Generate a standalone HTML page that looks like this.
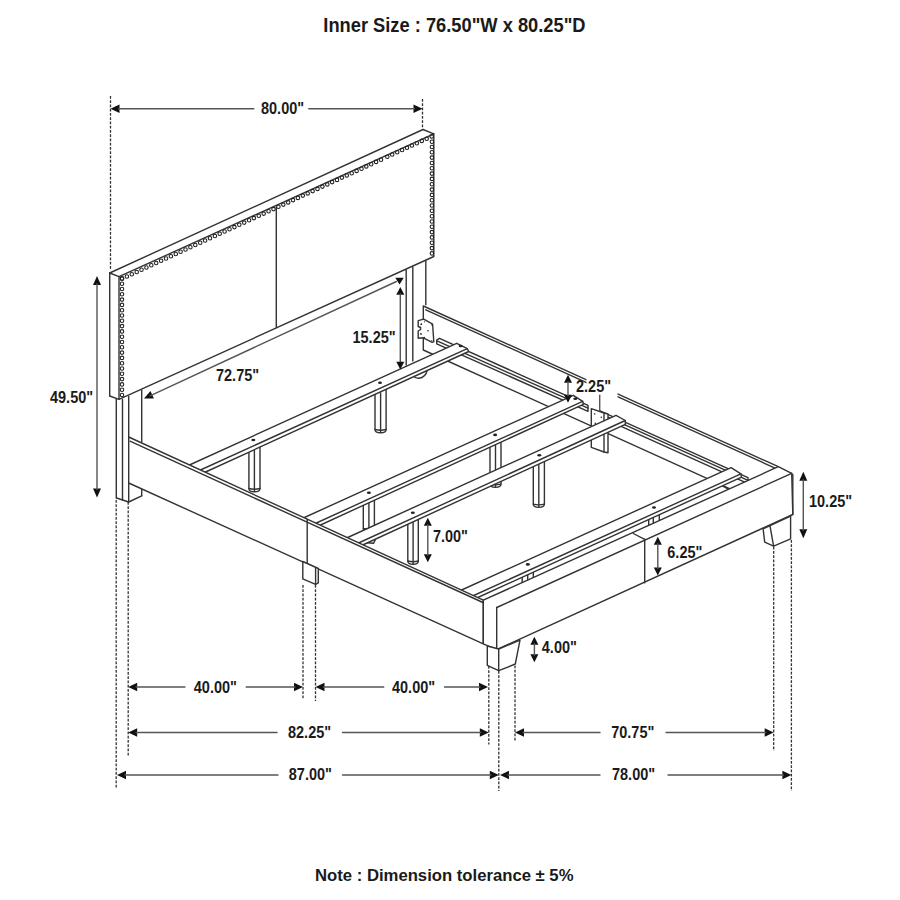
<!DOCTYPE html>
<html><head><meta charset="utf-8"><style>
html,body{margin:0;padding:0;background:#fff;width:900px;height:900px;overflow:hidden}
svg{display:block}
line,path{stroke:#333;stroke-width:1.4;fill:none;stroke-linecap:round;stroke-linejoin:round}
line.dash{stroke-dasharray:2.8 1.45;stroke-linecap:butt;stroke-width:1.3}
path.ah{fill:#111;stroke:none}
path.f{fill:#fff}
line.dim{stroke:#555}
circle.stud{fill:none;stroke:#222;stroke-width:1.1}
text{font-family:"Liberation Sans",sans-serif;font-weight:bold;fill:#1a1a1a}
</style></head><body>
<svg width="900" height="900" viewBox="0 0 900 900">
<line x1="109.7" y1="273.0" x2="109.7" y2="396.0"/>
<line x1="109.7" y1="396.0" x2="119.0" y2="399.3"/>
<line x1="109.7" y1="273.0" x2="119.0" y2="276.7"/>
<line x1="109.7" y1="273.0" x2="423.0" y2="129.5"/>
<line x1="423.0" y1="129.5" x2="433.8" y2="133.8"/>
<path d="M119.0,399.3 L119.0,276.7 L433.8,133.8 L433.8,256.5 L119.0,399.3"/>
<line x1="276.3" y1="207.5" x2="276.3" y2="327.5"/>
<circle class="stud" cx="122.0" cy="278.7" r="1.75"/>
<circle class="stud" cx="126.9" cy="276.5" r="1.75"/>
<circle class="stud" cx="131.8" cy="274.2" r="1.75"/>
<circle class="stud" cx="136.7" cy="272.0" r="1.75"/>
<circle class="stud" cx="141.5" cy="269.7" r="1.75"/>
<circle class="stud" cx="146.4" cy="267.5" r="1.75"/>
<circle class="stud" cx="151.3" cy="265.2" r="1.75"/>
<circle class="stud" cx="156.2" cy="263.0" r="1.75"/>
<circle class="stud" cx="161.1" cy="260.7" r="1.75"/>
<circle class="stud" cx="166.0" cy="258.5" r="1.75"/>
<circle class="stud" cx="170.9" cy="256.2" r="1.75"/>
<circle class="stud" cx="175.8" cy="254.0" r="1.75"/>
<circle class="stud" cx="180.6" cy="251.8" r="1.75"/>
<circle class="stud" cx="185.5" cy="249.5" r="1.75"/>
<circle class="stud" cx="190.4" cy="247.3" r="1.75"/>
<circle class="stud" cx="195.3" cy="245.0" r="1.75"/>
<circle class="stud" cx="200.2" cy="242.8" r="1.75"/>
<circle class="stud" cx="205.1" cy="240.5" r="1.75"/>
<circle class="stud" cx="210.0" cy="238.3" r="1.75"/>
<circle class="stud" cx="214.9" cy="236.0" r="1.75"/>
<circle class="stud" cx="219.7" cy="233.8" r="1.75"/>
<circle class="stud" cx="224.6" cy="231.5" r="1.75"/>
<circle class="stud" cx="229.5" cy="229.3" r="1.75"/>
<circle class="stud" cx="234.4" cy="227.1" r="1.75"/>
<circle class="stud" cx="239.3" cy="224.8" r="1.75"/>
<circle class="stud" cx="244.2" cy="222.6" r="1.75"/>
<circle class="stud" cx="249.1" cy="220.3" r="1.75"/>
<circle class="stud" cx="253.9" cy="218.1" r="1.75"/>
<circle class="stud" cx="258.8" cy="215.8" r="1.75"/>
<circle class="stud" cx="263.7" cy="213.6" r="1.75"/>
<circle class="stud" cx="268.6" cy="211.3" r="1.75"/>
<circle class="stud" cx="273.5" cy="209.1" r="1.75"/>
<circle class="stud" cx="278.4" cy="206.8" r="1.75"/>
<circle class="stud" cx="283.3" cy="204.6" r="1.75"/>
<circle class="stud" cx="288.2" cy="202.4" r="1.75"/>
<circle class="stud" cx="293.0" cy="200.1" r="1.75"/>
<circle class="stud" cx="297.9" cy="197.9" r="1.75"/>
<circle class="stud" cx="302.8" cy="195.6" r="1.75"/>
<circle class="stud" cx="307.7" cy="193.4" r="1.75"/>
<circle class="stud" cx="312.6" cy="191.1" r="1.75"/>
<circle class="stud" cx="317.5" cy="188.9" r="1.75"/>
<circle class="stud" cx="322.4" cy="186.6" r="1.75"/>
<circle class="stud" cx="327.3" cy="184.4" r="1.75"/>
<circle class="stud" cx="332.1" cy="182.1" r="1.75"/>
<circle class="stud" cx="337.0" cy="179.9" r="1.75"/>
<circle class="stud" cx="341.9" cy="177.6" r="1.75"/>
<circle class="stud" cx="346.8" cy="175.4" r="1.75"/>
<circle class="stud" cx="351.7" cy="173.2" r="1.75"/>
<circle class="stud" cx="356.6" cy="170.9" r="1.75"/>
<circle class="stud" cx="361.5" cy="168.7" r="1.75"/>
<circle class="stud" cx="366.3" cy="166.4" r="1.75"/>
<circle class="stud" cx="371.2" cy="164.2" r="1.75"/>
<circle class="stud" cx="376.1" cy="161.9" r="1.75"/>
<circle class="stud" cx="381.0" cy="159.7" r="1.75"/>
<circle class="stud" cx="387.3" cy="156.8" r="1.75"/>
<circle class="stud" cx="392.2" cy="154.5" r="1.75"/>
<circle class="stud" cx="397.2" cy="152.3" r="1.75"/>
<circle class="stud" cx="402.1" cy="150.0" r="1.75"/>
<circle class="stud" cx="407.0" cy="147.7" r="1.75"/>
<circle class="stud" cx="411.9" cy="145.5" r="1.75"/>
<circle class="stud" cx="416.9" cy="143.2" r="1.75"/>
<circle class="stud" cx="421.8" cy="140.9" r="1.75"/>
<circle class="stud" cx="426.7" cy="138.7" r="1.75"/>
<circle class="stud" cx="431.7" cy="136.4" r="1.75"/>
<circle class="stud" cx="122.0" cy="395.0" r="1.75"/>
<circle class="stud" cx="122.0" cy="389.7" r="1.75"/>
<circle class="stud" cx="122.0" cy="384.4" r="1.75"/>
<circle class="stud" cx="122.0" cy="379.1" r="1.75"/>
<circle class="stud" cx="122.0" cy="373.8" r="1.75"/>
<circle class="stud" cx="122.0" cy="368.5" r="1.75"/>
<circle class="stud" cx="122.0" cy="363.2" r="1.75"/>
<circle class="stud" cx="122.0" cy="357.9" r="1.75"/>
<circle class="stud" cx="122.0" cy="352.6" r="1.75"/>
<circle class="stud" cx="122.0" cy="347.3" r="1.75"/>
<circle class="stud" cx="122.0" cy="342.0" r="1.75"/>
<circle class="stud" cx="122.0" cy="336.7" r="1.75"/>
<circle class="stud" cx="122.0" cy="331.4" r="1.75"/>
<circle class="stud" cx="122.0" cy="326.1" r="1.75"/>
<circle class="stud" cx="122.0" cy="320.8" r="1.75"/>
<circle class="stud" cx="122.0" cy="315.5" r="1.75"/>
<circle class="stud" cx="122.0" cy="310.2" r="1.75"/>
<circle class="stud" cx="122.0" cy="304.9" r="1.75"/>
<circle class="stud" cx="122.0" cy="299.6" r="1.75"/>
<circle class="stud" cx="122.0" cy="294.3" r="1.75"/>
<circle class="stud" cx="122.0" cy="289.0" r="1.75"/>
<circle class="stud" cx="122.0" cy="283.7" r="1.75"/>
<circle class="stud" cx="122.0" cy="278.4" r="1.75"/>
<circle class="stud" cx="431.9" cy="253.4" r="1.75"/>
<circle class="stud" cx="431.9" cy="248.1" r="1.75"/>
<circle class="stud" cx="431.9" cy="242.8" r="1.75"/>
<circle class="stud" cx="431.9" cy="237.4" r="1.75"/>
<circle class="stud" cx="431.9" cy="232.1" r="1.75"/>
<circle class="stud" cx="431.9" cy="226.8" r="1.75"/>
<circle class="stud" cx="431.9" cy="221.5" r="1.75"/>
<circle class="stud" cx="431.9" cy="216.2" r="1.75"/>
<circle class="stud" cx="431.9" cy="210.8" r="1.75"/>
<circle class="stud" cx="431.9" cy="205.5" r="1.75"/>
<circle class="stud" cx="431.9" cy="200.2" r="1.75"/>
<circle class="stud" cx="431.9" cy="194.9" r="1.75"/>
<circle class="stud" cx="431.9" cy="189.6" r="1.75"/>
<circle class="stud" cx="431.9" cy="184.2" r="1.75"/>
<circle class="stud" cx="431.9" cy="178.9" r="1.75"/>
<circle class="stud" cx="431.9" cy="173.6" r="1.75"/>
<circle class="stud" cx="431.9" cy="168.3" r="1.75"/>
<circle class="stud" cx="431.9" cy="163.0" r="1.75"/>
<circle class="stud" cx="431.9" cy="157.6" r="1.75"/>
<circle class="stud" cx="431.9" cy="152.3" r="1.75"/>
<circle class="stud" cx="431.9" cy="147.0" r="1.75"/>
<circle class="stud" cx="431.9" cy="141.7" r="1.75"/>
<line x1="116.3" y1="399.3" x2="116.3" y2="498.0"/>
<line x1="122.5" y1="399.5" x2="122.5" y2="500.0"/>
<line x1="128.7" y1="396.5" x2="128.7" y2="438.3"/>
<line x1="128.7" y1="483.0" x2="128.7" y2="502.0"/>
<line x1="141.7" y1="390.0" x2="141.7" y2="441.7"/>
<line x1="141.7" y1="489.0" x2="141.7" y2="495.8"/>
<path d="M116.5,498.0 L128.7,502.0 L141.7,495.8"/>
<line x1="406.2" y1="270.2" x2="406.2" y2="365.0"/>
<line x1="412.8" y1="267.0" x2="412.8" y2="361.0"/>
<line x1="425.8" y1="260.8" x2="425.8" y2="304.8"/>
<path class="f" d="M423.3,306.0 L778.3,466.7 L778.3,510.7 L423.3,350.0Z"/>
<line x1="425.8" y1="309.8" x2="775.5" y2="468.3"/>
<rect x="586.5" y="372" width="31" height="26" fill="#fff" stroke="none"/>
<path class="f" d="M418.2,320.7 L423.7,319.1 L432.6,324.2 L433.8,341.7 L432.2,342.4 L423.3,337.8 L418.2,338.2 L418.2,331.0 L420.6,329.5 L420.6,327.5 L418.2,326.5Z" stroke-width="1.2"/>
<circle cx="428" cy="330.8" r="0.8" fill="#222" stroke="none"/>
<circle cx="421.3" cy="324.2" r="0.9" fill="#222" stroke="none"/>
<circle cx="421" cy="333.9" r="0.9" fill="#222" stroke="none"/>
<circle cx="424.4" cy="321.8" r="0.6" fill="#222" stroke="none"/>
<circle cx="431.8" cy="324.9" r="0.6" fill="#222" stroke="none"/>
<circle cx="424.4" cy="337.4" r="0.6" fill="#222" stroke="none"/>
<circle cx="431.8" cy="340.5" r="0.6" fill="#222" stroke="none"/>
<path class="f" d="M439.5,338.3 L588.0,405.3 L588.0,411.3 L436.7,343.8 L436.7,340.2Z"/>
<line x1="437.5" y1="341.2" x2="588.0" y2="408.1"/>
<path class="f" d="M600.0,410.8 L748.0,477.6 L748.0,483.6 L600.0,416.8Z"/>
<line x1="600.0" y1="413.6" x2="748.0" y2="480.4"/>
<path class="f" d="M375.0,393.0 L386.1,387.9 L386.1,429.5 Q386.1,432.8 380.6,432.8 Q375.0,432.8 375.0,429.5Z" stroke-width="1.2"/>
<line x1="380.6" y1="393.0" x2="380.6" y2="432.5" stroke-width="1.0"/>
<path d="M375.0,429.5 Q380.6,431.0 386.1,429.5" stroke-width="0.8"/>
<path class="f" d="M248.9,450.0 L260.0,444.9 L260.0,488.5 Q260.0,491.8 254.4,491.8 Q248.9,491.8 248.9,488.5Z" stroke-width="1.2"/>
<line x1="254.4" y1="450.0" x2="254.4" y2="491.5" stroke-width="1.0"/>
<path d="M248.9,488.5 Q254.4,490.0 260.0,488.5" stroke-width="0.8"/>
<path class="f" d="M490.0,445.0 L501.0,440.0 L501.0,484.1 Q501.0,487.4 495.5,487.4 Q490.0,487.4 490.0,484.1Z" stroke-width="1.2"/>
<line x1="495.5" y1="445.0" x2="495.5" y2="487.1" stroke-width="1.0"/>
<path d="M490.0,484.1 Q495.5,485.6 501.0,484.1" stroke-width="0.8"/>
<path class="f" d="M363.3,503.0 L374.4,497.9 L374.4,528.5 Q374.4,531.8 368.9,531.8 Q363.3,531.8 363.3,528.5Z" stroke-width="1.2"/>
<line x1="368.9" y1="503.0" x2="368.9" y2="531.5" stroke-width="1.0"/>
<path d="M363.3,528.5 Q368.9,530.0 374.4,528.5" stroke-width="0.8"/>
<path class="f" d="M533.3,464.0 L544.4,458.9 L544.4,504.1 Q544.4,507.4 538.8,507.4 Q533.3,507.4 533.3,504.1Z" stroke-width="1.2"/>
<line x1="538.8" y1="464.0" x2="538.8" y2="507.1" stroke-width="1.0"/>
<path d="M533.3,504.1 Q538.8,505.6 544.4,504.1" stroke-width="0.8"/>
<path class="f" d="M407.8,522.0 L418.3,517.2 L418.3,561.0 Q418.3,564.3 413.1,564.3 Q407.8,564.3 407.8,561.0Z" stroke-width="1.2"/>
<line x1="413.1" y1="522.0" x2="413.1" y2="564.0" stroke-width="1.0"/>
<path d="M407.8,561.0 Q413.1,562.5 418.3,561.0" stroke-width="0.8"/>
<path d="M411.5,371.5 Q412.5,378.5 419,378.2 Q425.5,377.8 427.5,369.5" stroke-width="1.2"/>
<path class="f" d="M591.3,408.7 L604.0,413.0 L608.0,414.0 L608.0,452.7 L604.0,452.0 L591.3,447.3Z"/>
<line x1="604.0" y1="413.0" x2="604.0" y2="452.0"/>
<circle cx="594.7" cy="414" r="0.8" fill="#222" stroke="none"/>
<circle cx="601.3" cy="417.3" r="0.8" fill="#222" stroke="none"/>
<circle cx="595.3" cy="423.3" r="0.8" fill="#222" stroke="none"/>
<path class="f" d="M522.2,570.0 L533.3,570.0 L533.3,583.3 L522.2,583.3Z"/>
<line x1="527.7" y1="570.0" x2="527.7" y2="583.3"/>
<path class="f" d="M648.7,510.0 L659.3,510.0 L659.3,525.3 L648.7,525.3Z"/>
<line x1="653.3" y1="510.0" x2="653.3" y2="525.3"/>
<line x1="720.7" y1="484.8" x2="728.7" y2="489.3"/>
<path d="M365.8,539.5 L367.0,542.8 L373.5,543.3 L375.5,539.5"/>
<path class="f" d="M185.0,467.0 L456.7,343.3 L467.3,348.7 L468.7,351.5 L199.0,475.0 L196.0,472.0Z"/>
<line x1="196.0" y1="472.0" x2="467.3" y2="348.7"/>
<ellipse cx="253.3" cy="440" rx="2" ry="1.3" fill="#222" stroke="none"/>
<ellipse cx="380" cy="382.8" rx="2" ry="1.3" fill="#222" stroke="none"/>
<ellipse cx="460.7" cy="346" rx="2" ry="1.3" fill="#222" stroke="none"/>
<path class="f" d="M300.0,519.5 L573.3,395.3 L582.7,401.3 L583.3,404.3 L314.0,528.0 L312.0,525.0Z"/>
<line x1="312.0" y1="525.0" x2="582.7" y2="401.3"/>
<ellipse cx="368.9" cy="492.8" rx="2" ry="1.3" fill="#222" stroke="none"/>
<ellipse cx="495.1" cy="434.9" rx="2" ry="1.3" fill="#222" stroke="none"/>
<ellipse cx="575.3" cy="398.7" rx="2" ry="1.3" fill="#222" stroke="none"/>
<path class="f" d="M340.0,541.0 L616.0,415.3 L625.3,420.5 L625.3,424.3 L354.0,549.0 L352.0,546.0Z"/>
<line x1="352.0" y1="546.0" x2="625.3" y2="420.5"/>
<ellipse cx="412.8" cy="512.8" rx="2" ry="1.3" fill="#222" stroke="none"/>
<ellipse cx="539.3" cy="455.3" rx="2" ry="1.3" fill="#222" stroke="none"/>
<path class="f" d="M455.0,593.0 L731.1,467.6 L740.9,473.8 L741.5,477.2 L468.0,602.0 L466.0,599.0Z"/>
<line x1="466.0" y1="599.0" x2="740.9" y2="473.8"/>
<ellipse cx="527.8" cy="564.4" rx="2" ry="1.3" fill="#222" stroke="none"/>
<ellipse cx="654" cy="507.5" rx="2" ry="1.3" fill="#222" stroke="none"/>
<path class="f" d="M128.7,437.0 L483.3,600.2 L483.3,643.8 L128.7,483.0Z"/>
<line x1="130.0" y1="441.2" x2="484.0" y2="603.0"/>
<line x1="307.2" y1="519.4" x2="307.2" y2="562.8"/>
<path class="f" d="M302.8,561.5 L318.3,568.5 L318.3,582.8 L315.6,584.4 L302.8,578.9Z"/>
<line x1="315.6" y1="568.0" x2="315.6" y2="584.4"/>
<path class="f" d="M483.3,600.2 L778.3,466.7 L791.7,473.3 L792.8,514.5 L496.7,649.6 L483.3,643.8Z"/>
<line x1="496.7" y1="607.5" x2="791.7" y2="473.3"/>
<line x1="496.7" y1="607.5" x2="496.7" y2="649.6"/>
<line x1="792.8" y1="474.5" x2="792.8" y2="514.5"/>
<line x1="633.3" y1="533.5" x2="644.7" y2="539.3"/>
<line x1="644.7" y1="539.3" x2="644.7" y2="582.7"/>
<path class="f" d="M487.3,646.0 L498.7,649.0 L520.0,640.2 L515.3,664.0 L498.7,670.7 L487.3,665.3Z"/>
<line x1="498.7" y1="649.0" x2="498.7" y2="670.7"/>
<path class="f" d="M763.1,528.9 L790.6,516.1 L790.6,538.9 L773.6,546.1 L764.7,542.2Z"/>
<line x1="770.0" y1="525.8" x2="773.6" y2="546.1"/>
<text transform="translate(323.3,31.8) scale(1,1.08)" font-size="18.3">Inner Size : 76.50&quot;W x 80.25&quot;D</text>
<text transform="translate(315.0,880.7) scale(1,1.04)" font-size="16.7">Note : Dimension tolerance ± 5%</text>
<path class="ah" d="M110.5,108.8 L119.5,104.5 L119.5,113.0Z"/>
<path class="ah" d="M422.5,108.8 L413.5,113.0 L413.5,104.5Z"/>
<line class="dim" x1="118.5" y1="108.8" x2="253.8" y2="108.8"/>
<line class="dim" x1="308.8" y1="108.8" x2="414.5" y2="108.8"/>
<text transform="translate(261.0,113.8) scale(1,1.12)" font-size="14.5">80.00&quot;</text>
<line class="dash" x1="110.5" y1="96.0" x2="110.5" y2="270.0"/>
<line class="dash" x1="422.5" y1="99.0" x2="422.5" y2="127.5"/>
<path class="ah" d="M97.0,276.0 L101.0,285.0 L93.0,285.0Z"/>
<path class="ah" d="M97.0,497.5 L93.0,488.5 L101.0,488.5Z"/>
<line class="dim" x1="97.0" y1="284.0" x2="97.0" y2="489.5"/>
<text transform="translate(50.0,402.5) scale(1,1.12)" font-size="14.5">49.50&quot;</text>
<path class="ah" d="M144.0,398.5 L150.5,391.0 L153.9,398.6Z"/>
<line class="dim" x1="150.0" y1="395.8" x2="396.4" y2="281.5"/>
<text transform="translate(216.0,380.5) scale(1,1.12)" font-size="14.5">72.75&quot;</text>
<path class="ah" d="M399.5,284.5 L395.3,277.7 L403.7,277.7Z"/>
<path class="ah" d="M400.3,287.0 L404.3,294.8 L396.3,294.8Z"/>
<line class="dim" x1="400.3" y1="294.0" x2="400.3" y2="362.0"/>
<path class="ah" d="M400.3,369.5 L396.3,361.7 L404.3,361.7Z"/>
<text transform="translate(352.5,342.5) scale(1,1.12)" font-size="14.5">15.25&quot;</text>
<path class="ah" d="M568.0,374.7 L572.0,382.7 L564.0,382.7Z"/>
<path class="ah" d="M568.0,402.7 L564.0,394.7 L572.0,394.7Z"/>
<line class="dim" x1="568.0" y1="381.7" x2="568.0" y2="395.7"/>
<text transform="translate(576.0,392.0) scale(1,1.12)" font-size="14.5">2.25&quot;</text>
<line class="dim" x1="599.7" y1="395.3" x2="599.7" y2="410.7"/>
<path class="ah" d="M803.3,471.7 L807.3,480.7 L799.3,480.7Z"/>
<path class="ah" d="M803.3,538.3 L799.3,529.3 L807.3,529.3Z"/>
<line class="dim" x1="803.3" y1="479.7" x2="803.3" y2="530.3"/>
<text transform="translate(809.0,506.7) scale(1,1.12)" font-size="14.5">10.25&quot;</text>
<path class="ah" d="M427.8,517.8 L431.8,525.8 L423.8,525.8Z"/>
<path class="ah" d="M427.8,562.2 L423.8,554.2 L431.8,554.2Z"/>
<line class="dim" x1="427.8" y1="524.8" x2="427.8" y2="555.2"/>
<text transform="translate(432.9,541.8) scale(1,1.12)" font-size="14.5">7.00&quot;</text>
<path class="ah" d="M657.8,536.7 L661.8,544.7 L653.8,544.7Z"/>
<path class="ah" d="M657.8,575.6 L653.8,567.6 L661.8,567.6Z"/>
<line class="dim" x1="657.8" y1="543.7" x2="657.8" y2="568.6"/>
<text transform="translate(667.3,558.0) scale(1,1.12)" font-size="14.5">6.25&quot;</text>
<path class="ah" d="M534.4,636.7 L538.4,644.7 L530.4,644.7Z"/>
<path class="ah" d="M534.4,662.2 L530.4,654.2 L538.4,654.2Z"/>
<line class="dim" x1="534.4" y1="643.7" x2="534.4" y2="655.2"/>
<text transform="translate(541.8,652.9) scale(1,1.12)" font-size="14.5">4.00&quot;</text>
<path class="ah" d="M128.2,687.0 L137.2,682.8 L137.2,691.2Z"/>
<path class="ah" d="M303.0,687.0 L294.0,691.2 L294.0,682.8Z"/>
<line class="dim" x1="136.2" y1="687.0" x2="185.0" y2="687.0"/>
<line class="dim" x1="246.2" y1="687.0" x2="295.0" y2="687.0"/>
<text transform="translate(193.8,693.0) scale(1,1.12)" font-size="14.5">40.00&quot;</text>
<path class="ah" d="M315.5,687.0 L324.5,682.8 L324.5,691.2Z"/>
<path class="ah" d="M488.0,687.0 L479.0,691.2 L479.0,682.8Z"/>
<line class="dim" x1="323.5" y1="687.0" x2="383.8" y2="687.0"/>
<line class="dim" x1="444.5" y1="687.0" x2="480.0" y2="687.0"/>
<text transform="translate(392.0,693.0) scale(1,1.12)" font-size="14.5">40.00&quot;</text>
<path class="ah" d="M128.2,732.5 L137.2,728.3 L137.2,736.7Z"/>
<path class="ah" d="M488.8,732.5 L479.8,736.7 L479.8,728.3Z"/>
<line class="dim" x1="136.2" y1="732.5" x2="277.0" y2="732.5"/>
<line class="dim" x1="342.5" y1="732.5" x2="480.8" y2="732.5"/>
<text transform="translate(288.0,737.7) scale(1,1.12)" font-size="14.5">82.25&quot;</text>
<path class="ah" d="M117.0,775.0 L126.0,770.8 L126.0,779.2Z"/>
<path class="ah" d="M498.8,775.0 L489.8,779.2 L489.8,770.8Z"/>
<line class="dim" x1="125.0" y1="775.0" x2="278.0" y2="775.0"/>
<line class="dim" x1="342.5" y1="775.0" x2="490.8" y2="775.0"/>
<text transform="translate(288.8,780.2) scale(1,1.12)" font-size="14.5">87.00&quot;</text>
<path class="ah" d="M515.0,732.5 L524.0,728.3 L524.0,736.7Z"/>
<path class="ah" d="M773.7,732.5 L764.7,736.7 L764.7,728.3Z"/>
<line class="dim" x1="523.0" y1="732.5" x2="600.0" y2="732.5"/>
<line class="dim" x1="666.0" y1="732.5" x2="765.7" y2="732.5"/>
<text transform="translate(611.2,737.7) scale(1,1.12)" font-size="14.5">70.75&quot;</text>
<path class="ah" d="M500.0,775.0 L509.0,770.8 L509.0,779.2Z"/>
<path class="ah" d="M791.4,775.0 L782.4,779.2 L782.4,770.8Z"/>
<line class="dim" x1="508.0" y1="775.0" x2="600.0" y2="775.0"/>
<line class="dim" x1="668.0" y1="775.0" x2="783.4" y2="775.0"/>
<text transform="translate(612.0,780.2) scale(1,1.12)" font-size="14.5">78.00&quot;</text>
<line class="dash" x1="116.2" y1="500.0" x2="116.2" y2="787.5"/>
<line class="dash" x1="128.2" y1="502.0" x2="128.2" y2="756.0"/>
<line class="dash" x1="303.0" y1="585.0" x2="303.0" y2="699.0"/>
<line class="dash" x1="315.5" y1="585.0" x2="315.5" y2="701.0"/>
<line class="dash" x1="488.8" y1="666.0" x2="488.8" y2="744.5"/>
<line class="dash" x1="498.8" y1="671.0" x2="498.8" y2="791.0"/>
<line class="dash" x1="515.0" y1="665.5" x2="515.0" y2="742.0"/>
<line class="dash" x1="773.7" y1="546.7" x2="773.7" y2="751.0"/>
<line class="dash" x1="791.4" y1="540.0" x2="791.4" y2="791.0"/>
</svg></body></html>
